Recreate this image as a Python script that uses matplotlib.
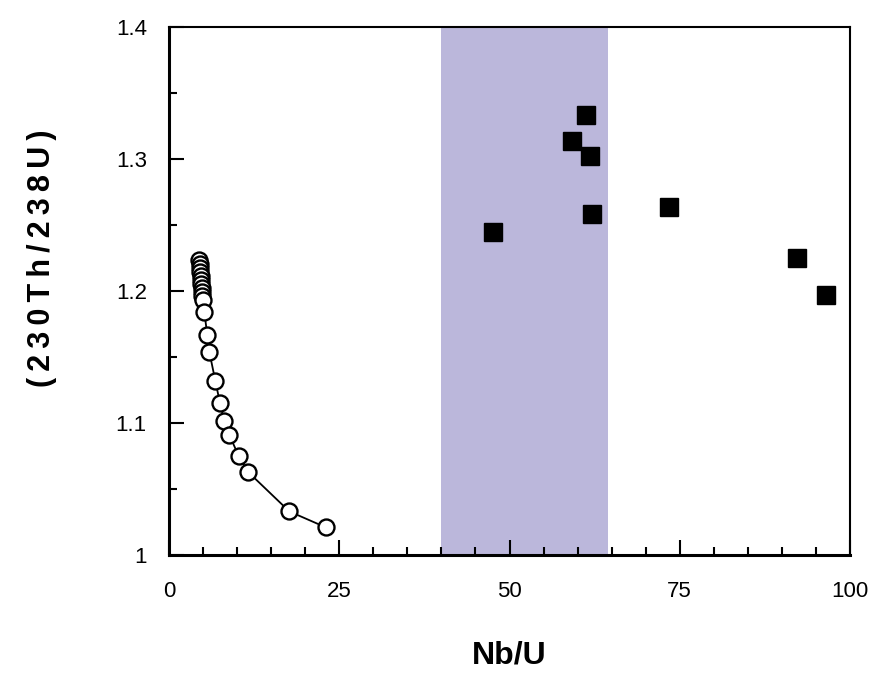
import matplotlib
matplotlib.use("Agg")
import matplotlib.pyplot as plt
from matplotlib.ticker import MultipleLocator, FixedLocator, FixedFormatter

plt.rcParams['font.family'] = ['Liberation Sans', 'DejaVu Sans']

# model curve (open circles)
model_x = [4.45, 4.5, 4.55, 4.6, 4.65, 4.7, 4.75, 4.8, 4.85, 4.9, 4.95,
           5.18, 5.62, 5.92, 6.8, 7.49, 8.12, 8.86, 10.23, 11.6, 17.67, 23.0]
model_y = [1.2235, 1.2205, 1.2175, 1.2145, 1.2115, 1.2085, 1.2055, 1.2025, 1.1995, 1.1965, 1.1935,
           1.184, 1.167, 1.154, 1.132, 1.115, 1.1015, 1.091, 1.075, 1.063, 1.033, 1.021]

# samples (filled squares)
samp_x = [47.6, 61.2, 59.2, 61.8, 62.1, 73.4, 92.2, 96.5]
samp_y = [1.245, 1.333, 1.3135, 1.302, 1.258, 1.264, 1.225, 1.197]

# shaded Nb/U range
band = (40, 64.5)

yticks = [1.0, 1.1, 1.2, 1.3, 1.4]
ylabels = ['1', '1.1', '1.2', '1.3', '1.4']
xticks = [0, 25, 50, 75, 100]

fig = plt.figure(figsize=(8.75, 6.74), dpi=100)
ax = fig.add_axes([169/875, 1-555/674, (850-169)/875, (555-27)/674])

ax.axvspan(band[0], band[1], color='#bbb7db', lw=0, zorder=0)
ax.plot(model_x, model_y, '-', color='black', lw=1.3, zorder=2)
ax.plot(model_x, model_y, 'o', mfc='white', mec='black', mew=1.7, ms=11.5, zorder=3)
ax.plot(samp_x, samp_y, 's', color='black', ms=13, zorder=4)

ax.set_xlim(0, 100)
ax.set_ylim(1.0, 1.4)
ax.xaxis.set_major_locator(FixedLocator(xticks))
ax.xaxis.set_minor_locator(MultipleLocator(5))
ax.yaxis.set_major_locator(FixedLocator(yticks))
ax.yaxis.set_major_formatter(FixedFormatter(ylabels))
ax.yaxis.set_minor_locator(MultipleLocator(0.05))

ax.tick_params(which='both', direction='in', width=1.5, labelsize=16)
ax.tick_params(which='major', length=11)
ax.tick_params(which='minor', length=6)
ax.tick_params(axis='x', which='major', pad=19)
ax.tick_params(axis='y', which='major', pad=16)
for s in ax.spines.values():
    s.set_linewidth(1.5)
ax.spines['left'].set_linewidth(2.2)
ax.spines['bottom'].set_linewidth(2.2)

fig.text(509/875, 1-655/674, 'Nb/U', ha='center', va='center',
         fontsize=23, fontweight='bold')
ylab = '\u2009'.join('(230Th/238U)')
fig.text(42/875, 1-258/674, ylab, ha='center', va='center',
         rotation=90, fontsize=22, fontweight='bold')

fig.savefig('out.png', dpi=100)
